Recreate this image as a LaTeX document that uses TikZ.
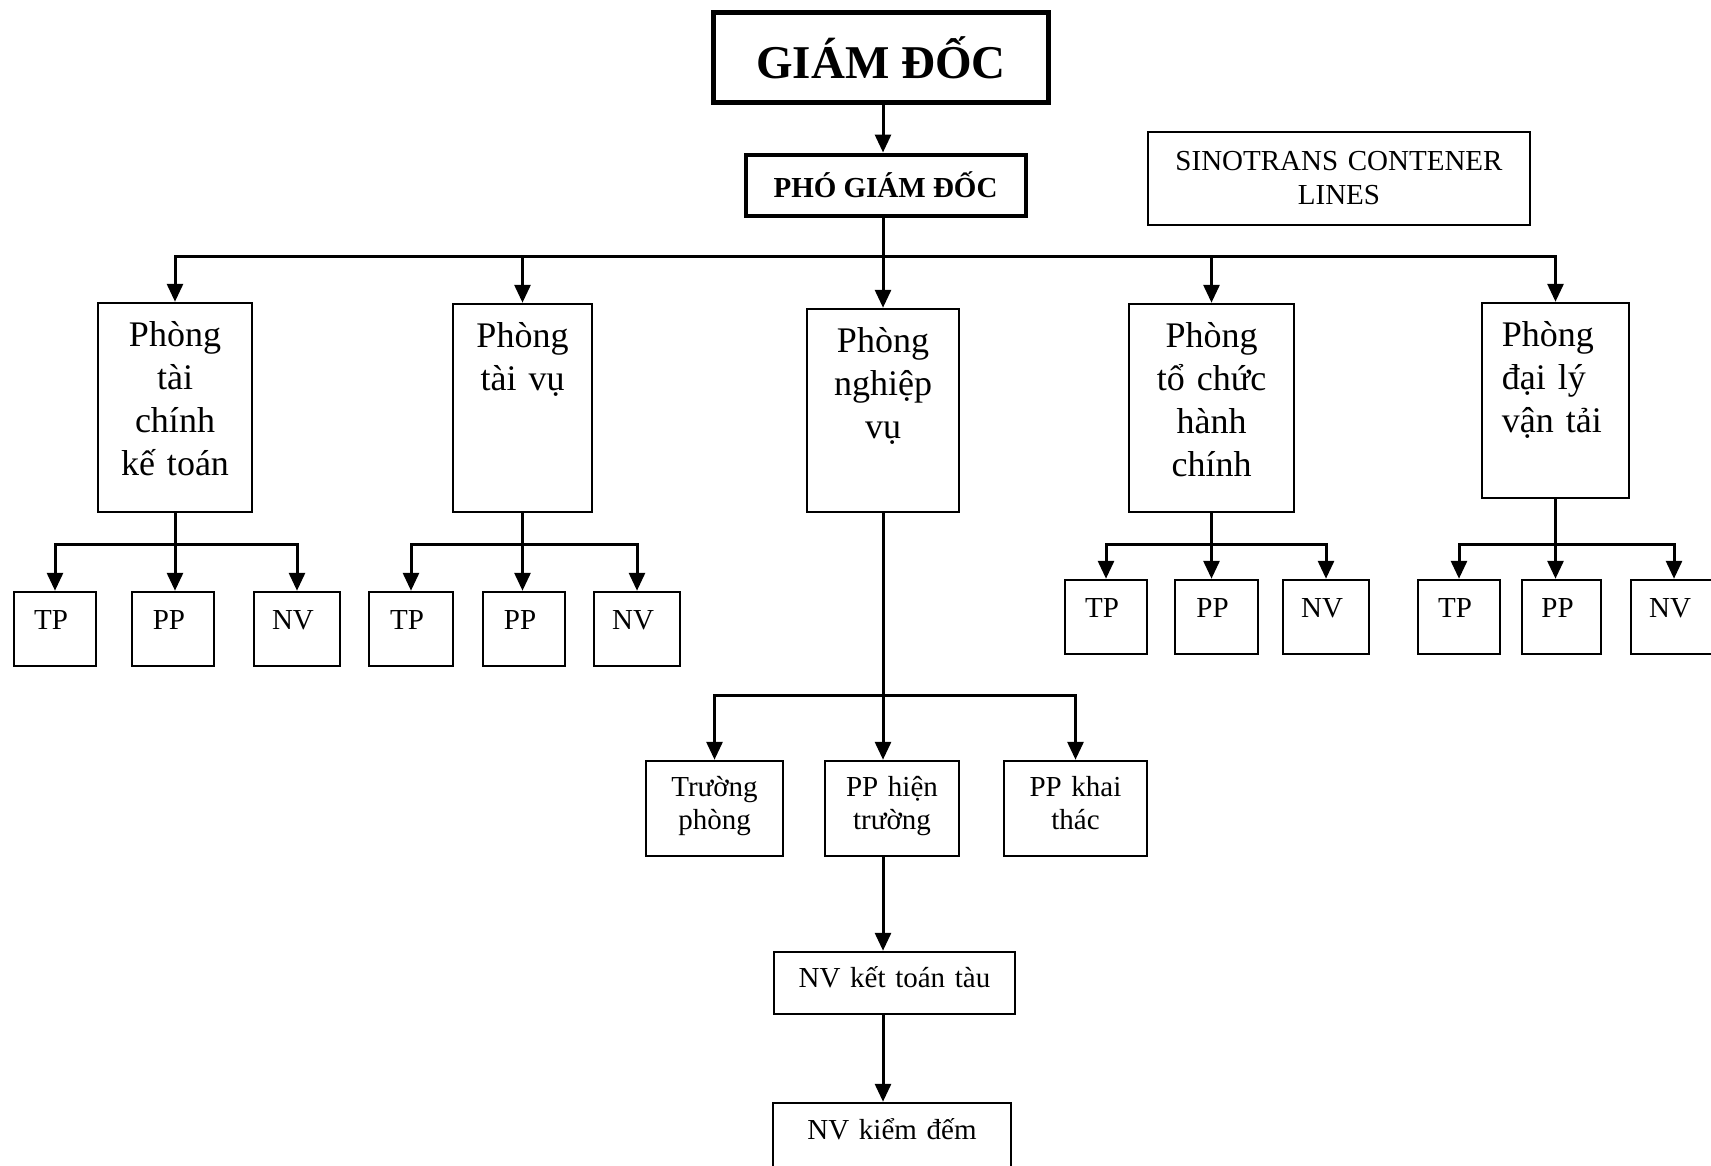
\documentclass[tikz,border=0pt]{standalone}
\usepackage{fontspec}
\setmainfont{Liberation Serif}
\usetikzlibrary{arrows.meta}
\begin{document}
\begin{tikzpicture}[x=1pt,y=-1pt,
  box/.style={draw, line width=2.5pt, rectangle, inner sep=0pt},
  cell/.style={box, minimum height=74pt},
  conn/.style={line width=3pt, line cap=rect},
  arr/.style={conn, -{Triangle[width=16pt,length=18pt]}},
  deptlabel/.style={inner sep=0pt, text width=150pt, align=center,
    font=\fontsize{36}{43}\selectfont, anchor=base},
  sublabel/.style={inner sep=0pt, text width=140pt, align=center,
    font=\fontsize{29}{33}\selectfont, anchor=base},
]
\useasboundingbox (0,0) rectangle (1711,1165);

% --- top management ---
\node[box, line width=5.5pt, minimum width=335pt, minimum height=90pt,
  font=\bfseries\fontsize{47}{56}\selectfont] (gd) at (881,57.5) {GIÁM ĐỐC};
\node[box, line width=4pt, minimum width=280pt, minimum height=61pt,
  font=\bfseries\fontsize{29}{34}\selectfont] (pgd) at (885.5,185) {PHÓ GIÁM ĐỐC};
\node[box, minimum width=382pt, minimum height=93pt, text width=370pt, align=center,
  font=\fontsize{29}{34}\selectfont] (sino) at (1339,178.5) {SINOTRANS CONTENER\\LINES};

% --- departments ---
\node[box, minimum width=154pt, minimum height=209pt] (d1) at (175,407.5) {};
\node[box, minimum width=139pt, minimum height=208pt] (d2) at (522.5,408) {};
\node[box, minimum width=152pt, minimum height=203pt] (d3) at (883,410.5) {};
\node[box, minimum width=165pt, minimum height=208pt] (d4) at (1211.5,408) {};
\node[box, minimum width=147pt, minimum height=195pt] (d5) at (1555.5,400.5) {};

\node[deptlabel] (d1t) at ([yshift=-45pt]d1.north) {Phòng\\tài\\chính\\kế toán};
\node[deptlabel] (d2t) at ([yshift=-45pt]d2.north) {Phòng\\tài vụ};
\node[deptlabel] (d3t) at ([yshift=-45pt]d3.north) {Phòng\\nghiệp\\vụ};
\node[deptlabel] (d4t) at ([yshift=-45pt]d4.north) {Phòng\\tổ chức\\hành\\chính};
\node[deptlabel, text width=120pt, align=left, anchor=base west] (d5t)
  at ([xshift=21pt,yshift=-45pt]d5.north west) {Phòng\\đại lý\\vận tải};

% --- staff under each department ---
\node[cell, minimum width=82pt] (tp1) at (55,629) {};
\node[cell, minimum width=82pt] (pp1) at (173,629) {};
\node[cell, minimum width=86pt] (nv1) at (297,629) {};
\node[cell, minimum width=84pt] (tp2) at (411,629) {};
\node[cell, minimum width=82pt] (pp2) at (524,629) {};
\node[cell, minimum width=86pt] (nv2) at (637,629) {};
\node[cell, minimum width=82pt] (tp4) at (1106,617) {};
\node[cell, minimum width=83pt] (pp4) at (1216.5,617) {};
\node[cell, minimum width=86pt] (nv4) at (1326,617) {};
\node[cell, minimum width=82pt] (tp5) at (1459,617) {};
\node[cell, minimum width=79pt] (pp5) at (1561.5,617) {};
\node[cell, minimum width=86pt] (nv5) at (1674,617) {};

\foreach \c/\t in {tp1/TP,pp1/PP,nv1/NV,tp2/TP,pp2/PP,nv2/NV,
                   tp4/TP,pp4/PP,nv4/NV,tp5/TP,pp5/PP,nv5/NV}
  \node[sublabel] (\c t) at ([xshift=-4pt,yshift=-39pt]\c.north) {\t};

% --- operations department staff ---
\node[box, minimum width=137pt, minimum height=95pt] (tr) at (714.5,808.5) {};
\node[box, minimum width=134pt, minimum height=95pt] (pph) at (892,808.5) {};
\node[box, minimum width=143pt, minimum height=95pt] (ppk) at (1075.5,808.5) {};
\node[box, minimum width=241pt, minimum height=62pt] (nvk) at (894.5,983) {};
\node[box, minimum width=238pt, minimum height=68pt] (nvd) at (892,1137) {};

\node[sublabel] (trt) at ([yshift=-37pt]tr.north) {Trường\\phòng};
\node[sublabel] (ppht) at ([yshift=-37pt]pph.north) {PP hiện\\trường};
\node[sublabel] (ppkt) at ([yshift=-37pt]ppk.north) {PP khai\\thác};
\node[sublabel, text width=240pt] (nvkt) at ([yshift=-37pt]nvk.north) {NV kết toán tàu};
\node[sublabel, text width=236pt] (nvdt) at ([yshift=-38pt]nvd.north) {NV kiểm đếm};

% --- connectors ---
\coordinate (trunk) at (883,256);
\coordinate (sb) at (0,544);
\coordinate (sb3) at (0,695);

\draw[arr] (gd.south -| trunk) -- (pgd.north -| trunk);
\draw[conn] (pgd.south -| trunk) -- (trunk);
\draw[conn] (trunk -| d1.north) -- (trunk -| d5.north);
\foreach \d in {d1,d2,d3,d4,d5}
  \draw[arr] (trunk -| \d.north) -- (\d.north);

\foreach \d/\a/\b/\m in {d1/tp1/pp1/nv1, d2/tp2/pp2/nv2, d4/tp4/pp4/nv4, d5/tp5/pp5/nv5}{
  \draw[arr] (\d.south) -- (\d.south |- \b.north);
  \draw[conn] (sb -| \a.north) -- (sb -| \m.north);
  \draw[arr] (sb -| \a.north) -- (\a.north);
  \draw[arr] (sb -| \m.north) -- (\m.north);
}

\draw[arr] (d3.south) -- (d3.south |- pph.north);
\draw[conn] (sb3 -| tr.north) -- (sb3 -| ppk.north);
\draw[arr] (sb3 -| tr.north) -- (tr.north);
\draw[arr] (sb3 -| ppk.north) -- (ppk.north);
\draw[arr] (d3.south |- pph.south) -- (d3.south |- nvk.north);
\draw[arr] (d3.south |- nvk.south) -- (d3.south |- nvd.north);
\end{tikzpicture}
\end{document}
